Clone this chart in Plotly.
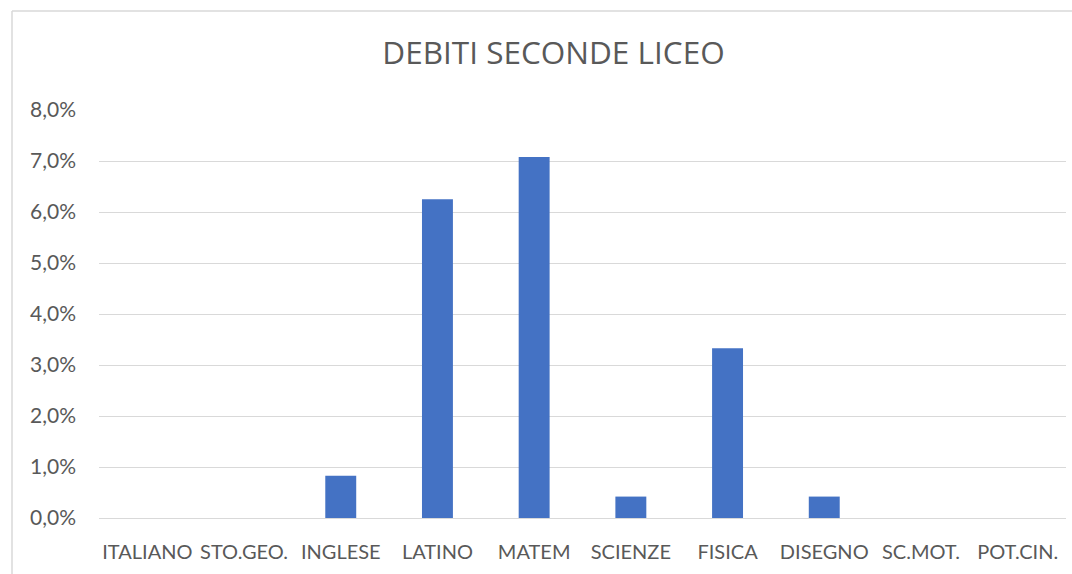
import plotly.graph_objects as go

categories = ["ITALIANO", "STO.GEO.", "INGLESE", "LATINO", "MATEM", "SCIENZE", "FISICA", "DISEGNO", "SC.MOT.", "POT.CIN."]
values = [0.0, 0.0, 0.0083, 0.0625, 0.0708, 0.0042, 0.0333, 0.0042, 0.0, 0.0]

W, H = 1072, 574
ml, mr, mt, mb = 99, 6, 110, 56
pw, ph = W - ml - mr, H - mt - mb

def px_to_paper_x(px):
    return (px - ml) / pw

def py_to_paper_y(py):
    return (H - mb - py) / ph

fig = go.Figure(go.Bar(x=categories, y=values, marker=dict(color="#4472C4", line=dict(width=0))))

bx0, by0 = px_to_paper_x(12), py_to_paper_y(11)
bx1, by1 = px_to_paper_x(1100), py_to_paper_y(600)
fig.add_shape(type="line", xref="paper", yref="paper", x0=bx0, y0=by1, x1=bx0, y1=by0,
              line=dict(color="#D9D9D9", width=1.5))
fig.add_shape(type="line", xref="paper", yref="paper", x0=bx0, y0=by0, x1=bx1, y1=by0,
              line=dict(color="#D9D9D9", width=1.5))

fig.update_layout(
    width=W, height=H,
    margin=dict(l=ml, r=mr, t=mt, b=mb),
    paper_bgcolor="white", plot_bgcolor="white",
    separators=",.",
    bargap=0.68,
    font=dict(family="Lato, Open Sans, sans-serif", color="#595959", size=21),
    title=dict(text="DEBITI SECONDE LICEO", x=553.5 / W, xref="container", xanchor="center",
               y=1 - 53 / H, yanchor="middle",
               font=dict(family="Open Sans, sans-serif", size=31.5, color="#595959")),
    showlegend=False,
)
fig.update_yaxes(range=[0, 0.08], dtick=0.01, tickformat=".1%", showgrid=True,
                 gridcolor="#D9D9D9", gridwidth=1, zeroline=True, zerolinecolor="#D9D9D9",
                 zerolinewidth=1, showline=False, ticklabelstandoff=22, fixedrange=True,
                 tickfont=dict(size=21))
fig.update_xaxes(showgrid=False, showline=False, ticklabelstandoff=20, tickangle=0, fixedrange=True,
                 tickfont=dict(size=20))

fig.write_html("out.html", config={"displayModeBar": False},
               post_script="document.body.style.margin='0';document.body.style.overflow='hidden';")
